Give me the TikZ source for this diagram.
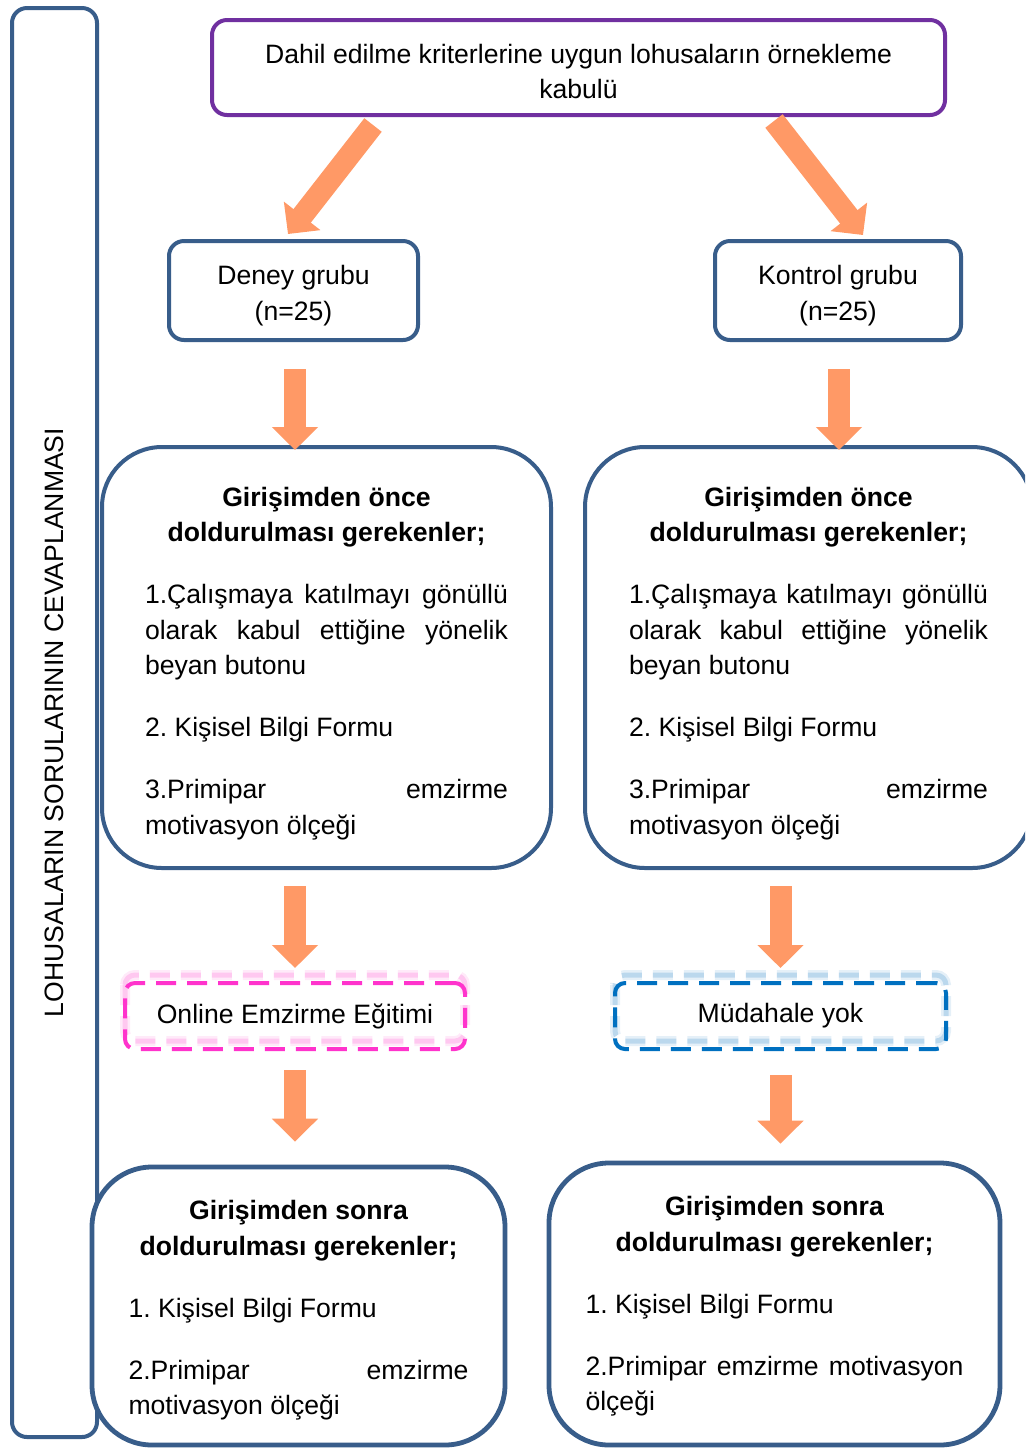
\documentclass[tikz,border=0pt]{standalone}
\usepackage{fontspec}
\setmainfont{Liberation Sans}
\usetikzlibrary{arrows.meta}
\definecolor{boxblue}{RGB}{56,93,138}
\definecolor{boxpurple}{RGB}{112,48,160}
\definecolor{arroworange}{RGB}{255,153,102}
\definecolor{dashpink}{RGB}{255,51,204}
\definecolor{dashblue}{RGB}{0,112,192}
\frenchspacing
\newcommand{\pargap}{\par\vspace{13.3pt}}
\begin{document}
\begin{tikzpicture}[x=0.5pt,y=-0.5pt,
  font=\fontsize{13.3pt}{17.7pt}\selectfont,
  smallbox/.style={draw=boxblue, line width=2pt, rounded corners=7.5pt, fill=white, inner sep=0pt},
  topbox/.style={draw=boxpurple, line width=2pt, rounded corners=7.5pt, fill=white, inner sep=0pt},
  bigbox/.style={draw=boxblue, line width=2pt, rounded corners=30pt, fill=white, inner sep=0pt},
  lowbox/.style={draw=boxblue, line width=2.4pt, rounded corners=30pt, fill=white, inner sep=0pt},
  dashbox/.style={line width=2pt, dash pattern=on 10pt off 5.5pt, rounded corners=5pt, inner sep=0pt, minimum height=33pt},
  bigarrow/.style={draw=arroworange, line width=11pt, -{Triangle[width=22.5pt,length=11.5pt]}},
]
\clip (0,0) rectangle (1025,1448);
\fill[white] (0,0) rectangle (1025,1448);

% left bar
\node[draw=boxblue, line width=2pt, rounded corners=7.5pt, minimum width=42.5pt, minimum height=714.5pt, inner sep=0pt] (bar) at (54.5,722.5) {};
\node[rotate=90] (bartext) at (bar.center) {LOHUSALARIN SORULARININ CEVAPLANMASI};

% top
\node[topbox, minimum width=366.5pt, minimum height=47.5pt] (top) at (578.5,67.5)
  {\parbox{340pt}{\centering\vspace*{4pt}Dahil edilme kriterlerine uygun lohusaların örnekleme\\kabulü}};

% groups
\node[smallbox, minimum width=124.5pt, minimum height=49.5pt] (deney) at (293.5,290.5)
  {\parbox{110pt}{\centering\vspace*{5pt}Deney grubu\\(n=25)}};
\node[smallbox, minimum width=123pt, minimum height=49.5pt] (kontrol) at (838,290.5)
  {\parbox{110pt}{\centering\vspace*{5pt}Kontrol grubu\\(n=25)}};

% before boxes
\node[bigbox, minimum width=224.5pt, minimum height=210.5pt] (mid1) at (326.5,657.5)
 {\parbox{181.5pt}{\vspace*{6pt}%
  {\centering\bfseries Girişimden önce\\ doldurulması gerekenler;\par}\vspace{13.3pt}
  1.Çalışmaya katılmayı gönüllü\linebreak olarak kabul ettiğine yönelik\linebreak beyan butonu\pargap
  2. Kişisel Bilgi Formu\pargap
  3.Primipar\hfill emzirme\break motivasyon ölçeği}};
\node[bigbox, minimum width=223.5pt, minimum height=210.5pt] (mid2) at (808.5,657.5)
 {\parbox{179.5pt}{\vspace*{6pt}%
  {\centering\bfseries Girişimden önce\\ doldurulması gerekenler;\par}\vspace{13.3pt}
  1.Çalışmaya katılmayı gönüllü\linebreak olarak kabul ettiğine yönelik\linebreak beyan butonu\pargap
  2. Kişisel Bilgi Formu\pargap
  3.Primipar\hfill emzirme\break motivasyon ölçeği}};

% dashed boxes with glow
\draw[dashpink, opacity=0.10, line width=5pt, dash pattern=on 10pt off 5.5pt, rounded corners=5pt]
  (125,975) rectangle (465,1041);
\draw[dashpink, opacity=0.18, line width=2.5pt, dash pattern=on 10pt off 5.5pt, rounded corners=5pt]
  (125,975) rectangle (465,1041);
\draw[dashblue, opacity=0.10, line width=5pt, dash pattern=on 10pt off 5.5pt, rounded corners=5pt]
  (615,975) rectangle (946,1041);
\draw[dashblue, opacity=0.18, line width=2.5pt, dash pattern=on 10pt off 5.5pt, rounded corners=5pt]
  (615,975) rectangle (946,1041);
\node[dashbox, draw=dashpink, minimum width=170pt] (online) at (295,1016) {Online Emzirme Eğitimi};
\node[dashbox, draw=dashblue, minimum width=165.5pt] (mud) at (780.5,1016) {Müdahale yok};

% after boxes
\node[lowbox, minimum width=206.5pt, minimum height=139pt] (son1) at (298.5,1306)
 {\parbox{170pt}{\vspace*{4.5pt}%
  {\centering\bfseries Girişimden sonra\\ doldurulması gerekenler;\par}\vspace{13.3pt}
  1. Kişisel Bilgi Formu\pargap
  2.Primipar\hfill emzirme\break motivasyon ölçeği}};
\node[lowbox, minimum width=225.5pt, minimum height=141pt] (son2) at (774.5,1304)
 {\parbox{189pt}{\vspace*{2.5pt}%
  {\centering\bfseries Girişimden sonra\\ doldurulması gerekenler;\par}\vspace{13.3pt}
  1. Kişisel Bilgi Formu\pargap
  2.Primipar emzirme motivasyon\linebreak ölçeği}};

% arrows
\draw[bigarrow] ([shift={(-205.5,8)}]top.south) -- ([shift={(-5.5,-5)}]deney.north);
\draw[bigarrow] ([shift={(195.5,4)}]top.south) -- ([shift={(25,-4)}]kontrol.north);
\draw[bigarrow, shorten <=13.5pt, shorten >=-2.5pt] ([xshift=0.75pt]deney.south) -- ([xshift=0.75pt]deney.south |- mid1.north);
\draw[bigarrow, shorten <=13.5pt, shorten >=-2.5pt] ([xshift=0.5pt]kontrol.south) -- ([xshift=0.5pt]kontrol.south |- mid2.north);
\draw[bigarrow, shorten <=8pt, shorten >=6.5pt] (online.north |- mid1.south) -- (online.north);
\draw[bigarrow, shorten <=8pt, shorten >=6.5pt] (mud.north |- mid2.south) -- (mud.north);
\draw[bigarrow, shorten <=9.5pt, shorten >=11.5pt] (online.south) -- (online.south |- son1.north);
\draw[bigarrow, shorten <=12pt, shorten >=8.5pt] (mud.south) -- (mud.south |- son2.north);
\end{tikzpicture}
\end{document}
